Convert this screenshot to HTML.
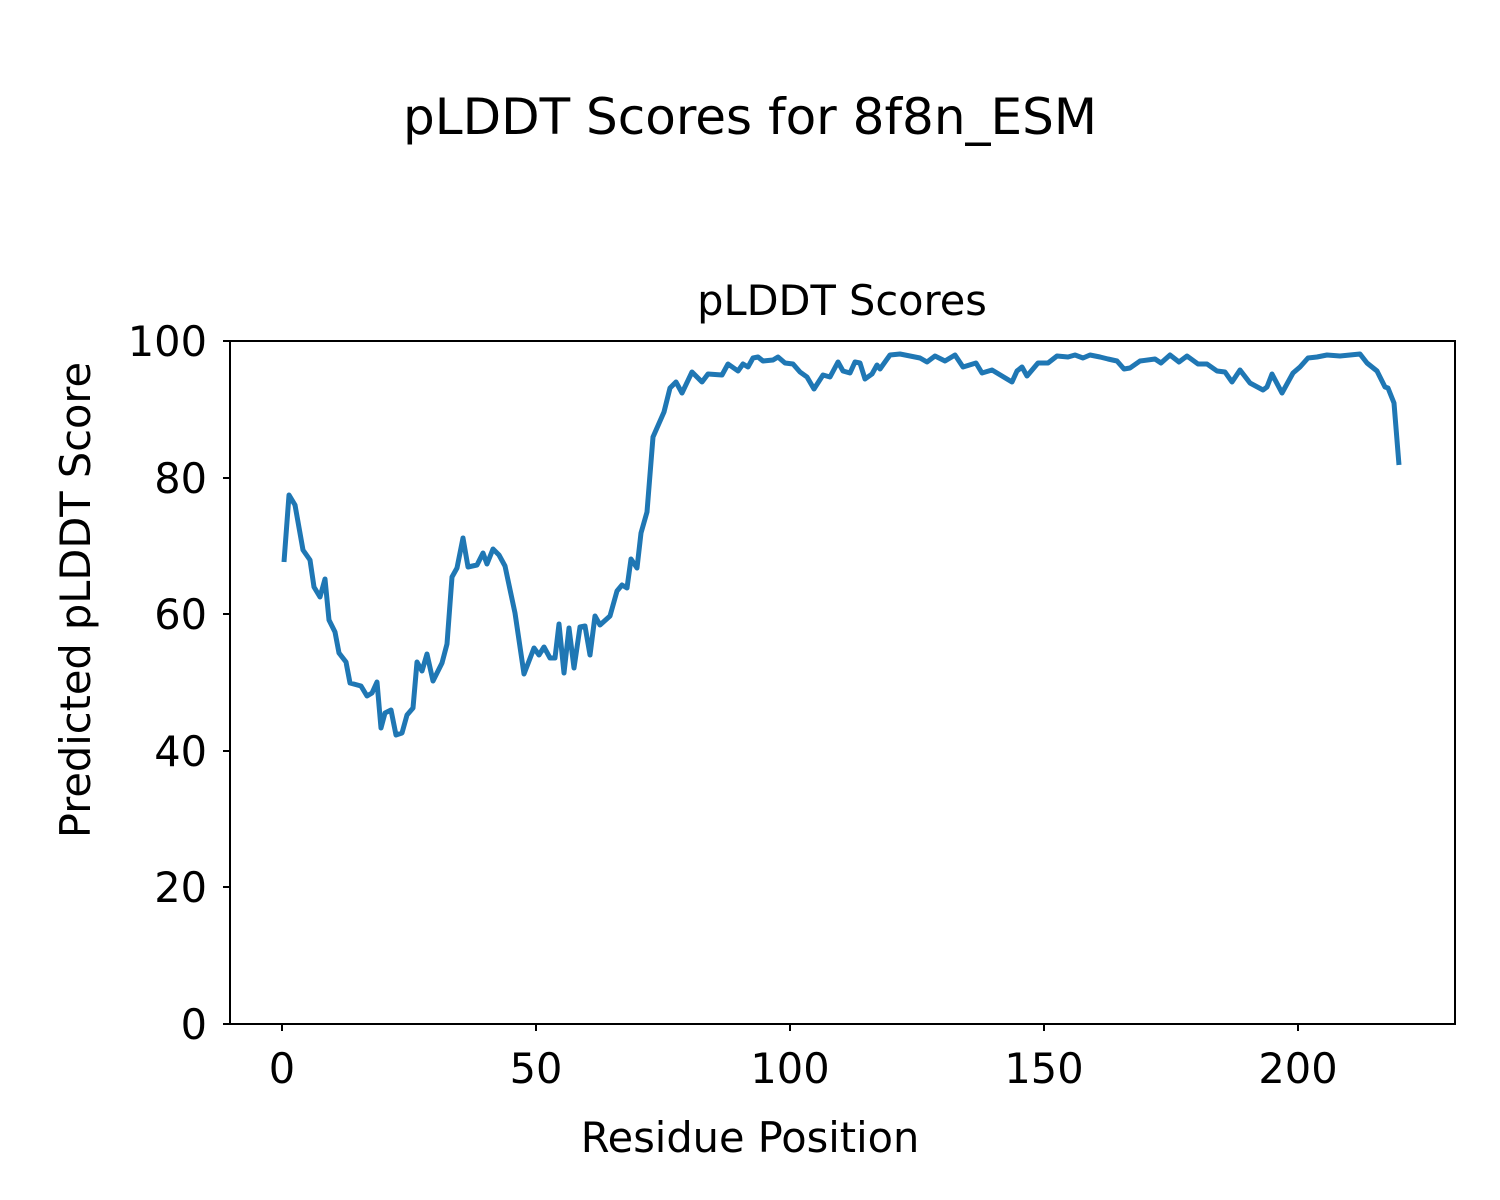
<!DOCTYPE html>
<html><head><style>body{margin:0;background:#fff}svg{display:block}text{font-family:"DejaVu Sans","Liberation Sans",sans-serif;fill:#000}</style></head><body>
<svg width="1500" height="1200" viewBox="0 0 1500 1200" xmlns="http://www.w3.org/2000/svg">
<text x="750" y="134" font-size="50" text-anchor="middle">pLDDT Scores for 8f8n_ESM</text>
<text x="842" y="315" font-size="41.5" text-anchor="middle">pLDDT Scores</text>
<polyline fill="none" stroke="#1f77b4" stroke-width="5" stroke-linejoin="round" points="284,562 289,495 295,505 303,550 310,560 314,587 320,597 325,579 329,620 335,632 339,653 346,662 350,683 361,686 367,696 372,693 377,682 381,728 385,713 391,710 396,735 402,733 407,715 413,708 417,662 422,671 427,654 433,681 442,663 447,644 452,577 457,568 463,538 468,567 477,565 483,553 487,564 493,549 499,555 505,566 515,613 524,674 534,648 539,655 544,647 550,658 555,658 559,624 564,673 569,628 574,668 580,627 585,626 590,655 595,616 600,625 610,616 617,591 622,585 627,588 631,559 637,568 641,533 647,512 653,437 664,412 670,388 676,382 682,393 692,372 702,382 708,374 722,375 728,364 738,371 743,364 748,367 753,358 758,357 763,361 773,360 778,357 785,363 793,364 800,372 807,377 814,389 823,375 830,377 838,362 843,371 850,373 855,362 860,363 865,379 872,374 877,365 880,369 890,355 900,354 910,356 920,358 927,362 935,356 945,361 955,355 963,367 976,363 982,373 992,370 1002,376 1012,382 1017,371 1022,367 1027,376 1038,363 1048,363 1057,356 1068,357 1075,355 1083,358 1090,355 1100,357 1108,359 1117,361 1124,369 1130,368 1140,361 1155,359 1161,363 1170,355 1179,362 1187,356 1198,364 1207,364 1217,371 1225,372 1232,382 1240,370 1250,383 1263,390 1267,387 1272,374 1282,393 1293,373 1300,367 1308,358 1317,357 1327,355 1340,356 1350,355 1360,354 1367,363 1377,371 1385,387 1388,388 1394,403 1399,465"/>
<rect x="230" y="341" width="1225" height="683" fill="none" stroke="#000" stroke-width="2"/>
<g stroke="#000" stroke-width="2">
<line x1="282" y1="1024" x2="282" y2="1031"/><line x1="536" y1="1024" x2="536" y2="1031"/><line x1="790" y1="1024" x2="790" y2="1031"/><line x1="1044" y1="1024" x2="1044" y2="1031"/><line x1="1298" y1="1024" x2="1298" y2="1031"/>
<line x1="223" y1="1024" x2="230" y2="1024"/><line x1="223" y1="887" x2="230" y2="887"/><line x1="223" y1="751" x2="230" y2="751"/><line x1="223" y1="614" x2="230" y2="614"/><line x1="223" y1="478" x2="230" y2="478"/><line x1="223" y1="341" x2="230" y2="341"/>
</g>
<g font-size="41.5" text-anchor="middle">
<text x="282" y="1083">0</text><text x="536" y="1083">50</text><text x="790" y="1083">100</text><text x="1044" y="1083">150</text><text x="1298" y="1083">200</text>
</g>
<g font-size="41.5" text-anchor="end">
<text x="207" y="1039">0</text><text x="207" y="902">20</text><text x="207" y="766">40</text><text x="207" y="629">60</text><text x="207" y="493">80</text><text x="207" y="356">100</text>
</g>
<text x="750" y="1152" font-size="41.5" text-anchor="middle">Residue Position</text>
<text transform="translate(90,600) rotate(-90)" font-size="41.5" text-anchor="middle">Predicted pLDDT Score</text>
</svg>
</body></html>
